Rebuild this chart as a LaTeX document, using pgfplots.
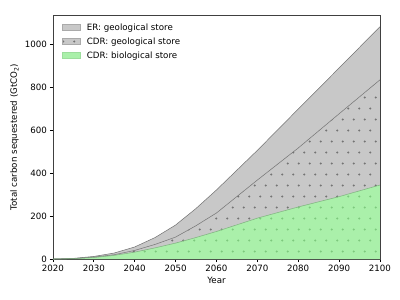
\documentclass[border=0pt]{standalone}
\usepackage{fontspec}
\setmainfont{DejaVu Sans}
\usepackage{pgfplots}
\pgfplotsset{compat=1.18}
\usetikzlibrary{patterns.meta}
\definecolor{erfill}{RGB}{200,200,200}
\definecolor{edgec}{RGB}{115,115,115}
\definecolor{biofill}{RGB}{170,240,170}
\definecolor{bioedge}{RGB}{125,175,125}
\definecolor{dotgray}{RGB}{115,115,115}
\definecolor{dotgreen}{RGB}{125,200,125}
\pgfdeclarepattern{
  name=mydots,
  type=uncolored,
  bottom left={\pgfpoint{0pt}{0pt}},
  top right={\pgfpoint{12.67pt}{25.34pt}},
  tile size={\pgfpoint{12.67pt}{25.34pt}},
  code={
    \pgfpathcircle{\pgfpoint{3.17pt}{6.33pt}}{1.35pt}
    \pgfpathcircle{\pgfpoint{9.5pt}{19pt}}{1.35pt}
    \pgfusepath{fill}
  }
}
\begin{document}
\begin{tikzpicture}
\path[use as bounding box] (0,0) rectangle (460.8pt,345.6pt);
\begin{axis}[
  at={(61pt,47.2pt)}, anchor=south west,
  width=376.7pt, height=281pt, scale only axis,
  xmin=2020, xmax=2100, ymin=0, ymax=1134,
  xtick={2020,2030,...,2100}, ytick={0,200,...,1000},
  tick align=outside, tick pos=left,
  major tick length=3.5pt,
  every tick/.style={black, line width=0.8pt},
  axis line style={line width=0.8pt, black!75},
  /pgf/number format/1000 sep={},
  /pgf/number format/assume math mode=true,
  ticklabel style={font=\fontsize{10}{12}\selectfont},
  label style={font=\fontsize{10}{12}\selectfont},
  xlabel={Year}, ylabel={Total carbon sequestered (GtCO\textsubscript{2})},
  legend style={at={(0.02,0.98)}, anchor=north west, draw=none, fill=none,
    font=\fontsize{10}{12}\selectfont, row sep=3pt},
  legend cell align=left,
  legend image code/.code={\draw[#1] (0pt,-3.5pt) rectangle (20pt,3.5pt);
    \path (26pt,0pt);},
]
\addlegendimage{fill=erfill, draw=erfill!85!black}
\addlegendentry{ER: geological store}
\addlegendimage{fill=erfill, draw=erfill!85!black, postaction={pattern=mydots, pattern color=dotgray}}
\addlegendentry{CDR: geological store}
\addlegendimage{fill=biofill, draw=biofill!92!black}
\addlegendentry{CDR: biological store}
% ER band: top forward, mid backward
\addplot[fill=erfill, draw=none, forget plot] coordinates {
(2020,0) (2025,3) (2030,12) (2035,28) (2040,56) (2045,100) (2050,158) (2055,235) (2060,321) (2070,505) (2080,697) (2090,888) (2100,1080)
(2100,833) (2090,675) (2080,516) (2070,367) (2060,214) (2055,155) (2050,102) (2045,68) (2040,40) (2035,20) (2030,9) (2025,2) (2020,0)};
% CDR geological band: mid forward, bio backward
\addplot[fill=erfill, draw=none, postaction={pattern=mydots, pattern color=dotgray}, forget plot] coordinates {
(2020,0) (2025,2) (2030,9) (2035,20) (2040,40) (2045,68) (2050,102) (2055,155) (2060,214) (2070,367) (2080,516) (2090,675) (2100,833)
(2100,344) (2090,290) (2080,242) (2070,190) (2060,128) (2055,100) (2050,74) (2045,52) (2040,32) (2035,17) (2030,7) (2025,2) (2020,0)};
% CDR biological band
\addplot[fill=biofill, draw=none, postaction={pattern=mydots, pattern color=dotgreen}, forget plot] coordinates {
(2020,0) (2025,2) (2030,7) (2035,17) (2040,32) (2045,52) (2050,74) (2055,100) (2060,128) (2070,190) (2080,242) (2090,290) (2100,344)
(2100,0) (2020,0)};
% edges
\addplot[draw=edgec, line width=0.6pt, forget plot] coordinates {
(2020,0) (2025,3) (2030,12) (2035,28) (2040,56) (2045,100) (2050,158) (2055,235) (2060,321) (2070,505) (2080,697) (2090,888) (2100,1080)};
\addplot[draw=edgec, line width=0.6pt, forget plot] coordinates {
(2020,0) (2025,2) (2030,9) (2035,20) (2040,40) (2045,68) (2050,102) (2055,155) (2060,214) (2070,367) (2080,516) (2090,675) (2100,833)};
\addplot[draw=bioedge, line width=0.6pt, forget plot] coordinates {
(2020,0) (2025,2) (2030,7) (2035,17) (2040,32) (2045,52) (2050,74) (2055,100) (2060,128) (2070,190) (2080,242) (2090,290) (2100,344)};
\end{axis}
\end{tikzpicture}
\end{document}
